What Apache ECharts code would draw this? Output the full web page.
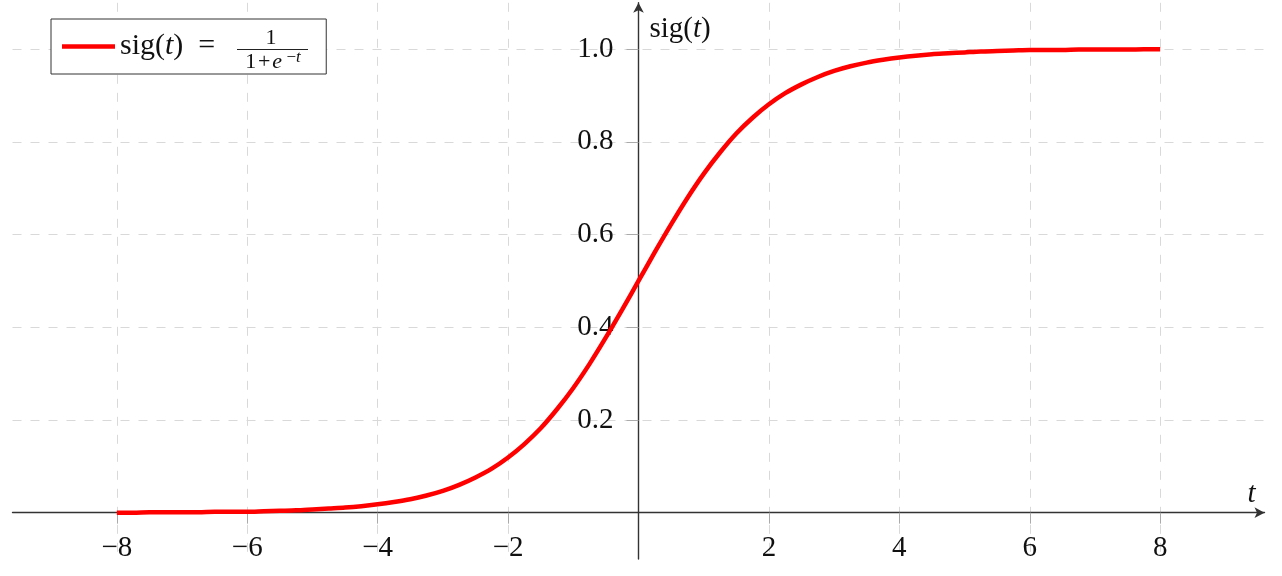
<!DOCTYPE html>
<html>
<head>
<meta charset="utf-8">
<script src="https://cdn.jsdelivr.net/npm/echarts@6/dist/echarts.min.js"></script>
<style>
html,body{margin:0;padding:0;background:#fff;}
#c{width:1282px;height:576px;}
</style>
</head>
<body>
<div id="c"></div>
<script>
// ---- data ----
const tValues = [-8,-7.75,-7.5,-7.25,-7,-6.75,-6.5,-6.25,-6,-5.75,-5.5,-5.25,-5,-4.75,-4.5,-4.25,-4,-3.75,-3.5,-3.25,-3,-2.75,-2.5,-2.25,-2,-1.75,-1.5,-1.25,-1,-0.75,-0.5,-0.25,0,
                 0.25,0.5,0.75,1,1.25,1.5,1.75,2,2.25,2.5,2.75,3,3.25,3.5,3.75,4,4.25,4.5,4.75,5,5.25,5.5,5.75,6,6.25,6.5,6.75,7,7.25,7.5,7.75,8];
const sigValues = [0.000,0.000,0.001,0.001,0.001,0.001,0.002,0.002,0.002,0.003,0.004,0.005,0.007,0.009,0.011,0.014,0.018,0.023,0.029,0.037,0.047,0.060,0.076,0.095,0.119,0.148,0.182,0.223,0.269,0.321,0.378,0.438,0.500,
                   0.562,0.622,0.679,0.731,0.777,0.818,0.852,0.881,0.905,0.924,0.940,0.953,0.963,0.971,0.977,0.982,0.986,0.989,0.991,0.993,0.995,0.996,0.997,0.998,0.998,0.998,0.999,0.999,0.999,0.999,1.000,1.000];
const xTickValues = [-8,-6,-4,-2,2,4,6,8];
const yTickValues = [0.2,0.4,0.6,0.8,1.0];
const seriesName = 'sig(t)';

const FONT = "'Liberation Serif','Times New Roman',serif";
const TXT = '#111';

// plot area (pixels) and ranges
const X_MIN = -9.6, X_MAX = 9.6, Y_MIN = -0.1, Y_MAX = 1.1;
const G = {left:12.5, right:17.5, top:2.8, bottom:17};
const gridW = 1282 - G.left - G.right;
const gridH = 576 - G.top - G.bottom;
// shift the axes (line + labels) from the plot edge onto the zero lines
const xAxisOffset = -gridH * (0 - Y_MIN) / (Y_MAX - Y_MIN);
const yAxisOffset = -gridW * (0 - X_MIN) / (X_MAX - X_MIN);

const chart = echarts.init(document.getElementById('c'), null, {renderer:'canvas'});

const points = tValues.map((t, i) => [t, sigValues[i]]);
const inList = (list, v) => list.some(x => Math.abs(x - Number(v)) < 1e-6);

const gridLine = {show:true, lineStyle:{color:'#d9d9d9', width:1, type:[9,9]}};
const axisLineStyle = {color:'#333', width:1.4};

const option = {
  animation:false,
  backgroundColor:'#fff',
  grid:{left:G.left, right:G.right, top:G.top, bottom:G.bottom, containLabel:false, outerBoundsMode:'none'},
  legend:{
    show:true, left:51, top:19, orient:'horizontal',
    padding:[11,111,11,11],
    itemWidth:53, itemHeight:4.5, itemGap:0,
    backgroundColor:'#fff', borderColor:'#333', borderWidth:1, borderRadius:0,
    selectedMode:false,
    formatter:() => '{r|sig(}{i|t}{r|)\u2002=}',
    textStyle:{
      fontFamily:FONT, fontSize:30, color:TXT, lineHeight:33,
      rich:{
        r:{fontFamily:FONT, fontSize:30, color:TXT, lineHeight:33},
        i:{fontFamily:FONT, fontSize:30, color:TXT, lineHeight:33, fontStyle:'italic'}
      }
    },
    data:[{name:seriesName, icon:'rect', itemStyle:{color:'#ff0000'}}]
  },
  xAxis:{
    type:'value', min:X_MIN, max:X_MAX, splitNumber:10,
    position:'bottom', offset:xAxisOffset,
    name:'{i|t}', nameLocation:'end', nameGap:-9,
    nameTextStyle:{
      fontFamily:FONT, fontSize:29, color:TXT, align:'right', verticalAlign:'bottom', padding:[0,0,4,0],
      rich:{i:{fontFamily:FONT, fontSize:29, color:TXT, fontStyle:'italic'}}
    },
    axisLine:{show:true, onZero:false, lineStyle:axisLineStyle, symbol:['none','arrow'], symbolSize:[8,10]},
    axisTick:{show:true, customValues:xTickValues, length:11, lineStyle:{color:'#aaa', width:1}},
    axisLabel:{
      show:true, margin:21, fontFamily:FONT, fontSize:29, color:TXT,
      formatter:v => {
        const n = Number(v);
        if (!inList(xTickValues, n)) return '';
        return n < 0 ? '\u2212' + Math.abs(n) : String(n);
      }
    },
    splitLine:gridLine
  },
  yAxis:{
    type:'value', min:Y_MIN, max:Y_MAX, splitNumber:6,
    position:'left', offset:yAxisOffset,
    name:'{r|sig(}{i|t}{r|)}', nameLocation:'end', nameGap:-12,
    nameTextStyle:{
      fontFamily:FONT, fontSize:29, color:TXT, align:'left', verticalAlign:'top', padding:[0,0,0,11],
      rich:{
        r:{fontFamily:FONT, fontSize:29, color:TXT},
        i:{fontFamily:FONT, fontSize:29, color:TXT, fontStyle:'italic'}
      }
    },
    axisLine:{show:true, onZero:false, lineStyle:axisLineStyle, symbol:['none','arrow'], symbolSize:[8,10]},
    axisTick:{show:true, customValues:yTickValues, length:12, lineStyle:{color:'#aaa', width:1}},
    axisLabel:{
      show:true, margin:25, fontFamily:FONT, fontSize:29, color:TXT,
      formatter:v => {
        const n = Number(v);
        if (!inList(yTickValues, n)) return '';
        return n.toFixed(1);
      }
    },
    splitLine:gridLine
  },
  graphic:[
    {type:'text', x:271, y:38, z:100, style:{text:'1', fontFamily:FONT, fontSize:22, fill:TXT, align:'center', verticalAlign:'middle'}},
    {type:'line', z:100, shape:{x1:237, y1:49.5, x2:308, y2:49.5}, style:{stroke:'#222', lineWidth:1.2}},
    {type:'text', x:273, y:62.5, z:100, style:{
      text:'{u|1\u200a+\u200a}{i|e\u2009}{s|\u2212}{si|t}', align:'center', verticalAlign:'middle',
      rich:{
        u:{fontFamily:FONT, fontSize:22, fill:TXT, lineHeight:26},
        i:{fontFamily:FONT, fontSize:22, fill:TXT, fontStyle:'italic', lineHeight:26},
        s:{fontFamily:FONT, fontSize:17, fill:TXT, verticalAlign:'top'},
        si:{fontFamily:FONT, fontSize:17, fill:TXT, fontStyle:'italic', verticalAlign:'top'}
      }
    }}
  ],
  series:[{
    name:seriesName, type:'line', data:points,
    smooth:0.3, showSymbol:false, symbol:'none',
    lineStyle:{color:'#ff0000', width:4.5}, itemStyle:{color:'#ff0000'},
    z:5
  }]
};
chart.setOption(option);
</script>
</body>
</html>
